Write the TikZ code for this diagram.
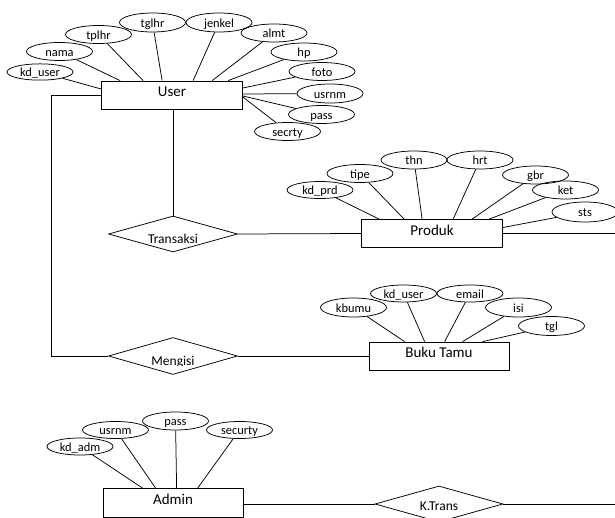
\documentclass[tikz,border=0pt]{standalone}
\usepackage{fontspec}
\setmainfont{Carlito}
\usetikzlibrary{shapes.geometric}
\begin{document}
\begin{tikzpicture}[x=1pt,y=-1pt,
  attr/.style={ellipse,draw,line width=0.75pt,inner sep=0pt,minimum width=66pt,minimum height=18pt,font=\fontsize{12.4}{13}\selectfont,text height=10.5pt,text depth=1pt},
  entity/.style={rectangle,draw,line width=0.75pt,minimum width=141pt,minimum height=28pt,inner sep=0pt,font=\fontsize{15}{16}\selectfont,text height=9.7pt,text depth=6pt},
  rel/.style={diamond,draw,line width=0.75pt,inner sep=0pt,minimum width=129pt,minimum height=36pt,shape aspect=3.5},
  reltext/.style={font=\fontsize{13.5}{14}\selectfont,inner sep=0pt,anchor=base},
  conn/.style={line width=0.75pt}]
\clip (0,0) rectangle (615,518);
% entities
\node[entity] (user) at (172,95) {User};
\node[entity] (produk) at (432,233.5) {Produk};
\node[entity,minimum width=140pt] (buku) at (439,356) {Buku Tamu};
\node[entity,minimum width=140pt,minimum height=29pt] (admin) at (173,503) {Admin};
% relationships
\node[rel] (tr) at (173,234) {};
\node[rel,minimum height=37pt] (mg) at (173,356) {};
\node[rel,minimum width=128pt] (kt) at (439,504) {};
\begin{scope}
  \clip (100,210) rectangle (250,243.5);
  \node[reltext] (trt) at (173,244) {Transaksi};
\end{scope}
\begin{scope}
  \clip (100,330) rectangle (250,365.2);
  \node[reltext] (mgt) at (173,365.7) {Mengisi};
\end{scope}
\node[reltext] (ktt) at (439,510.5) {K.Trans};
% User attributes
\node[attr,minimum height=15pt] (u1) at (40,72) {kd\_user};
\node[attr] (u2) at (59.5,51.5) {nama};
\node[attr] (u3) at (98.5,34.5) {tplhr};
\node[attr,minimum height=19pt] (u4) at (152.5,22.5) {tglhr};
\node[attr,minimum height=19pt] (u5) at (219,22.5) {jenkel};
\node[attr] (u6) at (274,33) {almt};
\node[attr] (u7) at (304,52) {hp};
\node[attr] (u8) at (322,71.5) {foto};
\node[attr,minimum height=19pt] (u9) at (330,93.5) {usrnm};
\node[attr] (u10) at (321.5,114.5) {pass};
\node[attr] (u11) at (287.5,131.5) {secrty};
\draw[conn] (u1) -- ([yshift=6pt]user.west);
\draw[conn] (u2) -- ([xshift=19pt]user.north west);
\draw[conn] (u3) -- ([xshift=42pt]user.north west);
\draw[conn] (u4) -- ([xshift=61pt]user.north west);
\draw[conn] (u5) -- ([xshift=92pt]user.north west);
\draw[conn] (u6) -- ([xshift=111pt]user.north west);
\draw[conn] (u7) -- ([xshift=127pt]user.north west);
\draw[conn] (u8) -- ([yshift=7pt]user.east);
\draw[conn] (u9) -- ([yshift=1pt]user.east);
\draw[conn] (u10) -- ([yshift=-1pt]user.east);
\draw[conn] (u11) -- ([yshift=-2pt]user.east);
% Produk attributes
\node[attr,minimum height=17pt] (p1) at (320,190) {kd\_prd};
\node[attr] (p2) at (360,173.5) {tipe};
\node[attr] (p3) at (414,160) {thn};
\node[attr] (p4) at (480,160) {hrt};
\node[attr] (p5) at (535.5,175) {gbr};
\node[attr] (p6) at (565.5,190) {ket};
\node[attr,minimum height=20pt] (p7) at (585,212) {sts};
\draw[conn] (p1) -- ([xshift=18pt]produk.north west);
\draw[conn] (p2) -- ([xshift=43pt]produk.north west);
\draw[conn] (p3) -- ([xshift=61pt]produk.north west);
\draw[conn] (p4) -- ([xshift=92pt]produk.north west);
\draw[conn] (p5) -- ([xshift=111pt]produk.north west);
\draw[conn] (p6) -- ([xshift=128pt]produk.north west);
\draw[conn] (p7) -- ([yshift=6pt]produk.east);
% Buku Tamu attributes
\node[attr,minimum height=19pt] (b1) at (353.5,307.5) {kbumu};
\node[attr,minimum height=17pt] (b2) at (403.5,293.5) {kd\_user};
\node[attr,minimum height=17pt] (b3) at (470,293.5) {email};
\node[attr,minimum height=19pt] (b4) at (518.5,307.5) {isi};
\node[attr,minimum height=19pt] (b5) at (551.5,326) {tgl};
\draw[conn] (b1) -- ([xshift=36pt]buku.north west);
\draw[conn] (b2) -- ([xshift=56pt]buku.north west);
\draw[conn] (b3) -- ([xshift=76pt]buku.north west);
\draw[conn] (b4) -- ([xshift=94pt]buku.north west);
\draw[conn] (b5) -- ([xshift=114pt]buku.north west);
% Admin attributes
\node[attr,minimum height=17pt] (a1) at (80,446.5) {kd\_adm};
\node[attr,minimum height=17pt] (a2) at (115.5,430) {usrnm};
\node[attr] (a3) at (175.5,421) {pass};
\node[attr,minimum height=17pt] (a4) at (239.5,430) {securty};
\draw[conn] (a1) -- ([xshift=40pt]admin.north west);
\draw[conn] (a2) -- ([xshift=53pt]admin.north west);
\draw[conn] (a3) -- ([xshift=74pt]admin.north west);
\draw[conn] (a4) -- ([xshift=95pt]admin.north west);
% relationship connectors
\coordinate (lc) at (51,356);
\coordinate (pr) at (615,233.5);
\coordinate (kr) at (615,504);
\draw[conn] (user.west) -| (lc) -- (mg.west);
\draw[conn] (user.south -| tr.north) -- (tr.north);
\draw[conn] (tr.east) -- (produk.west);
\draw[conn] (produk.east) -- (pr);
\draw[conn] (mg.east) -- (buku.west);
\draw[conn] (admin.east |- kt.west) -- (kt.west);
\draw[conn] (kt.east) -- (kr);
\end{tikzpicture}
\end{document}
